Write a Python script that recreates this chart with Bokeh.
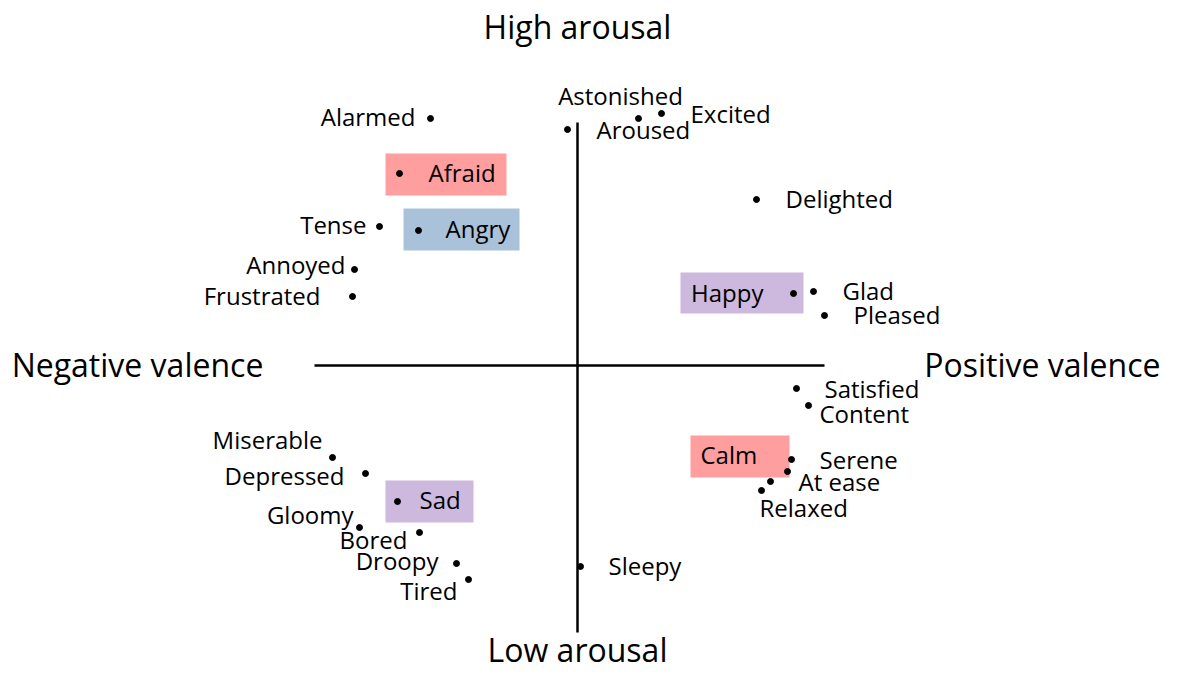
from bokeh.plotting import figure
from bokeh.models import Range1d, ColumnDataSource, Label
from bokeh.core.properties import value
from bokeh.embed import file_html
from bokeh.resources import INLINE

# ---- data: emotion words on the valence / arousal plane ----
words = ["Alarmed", "Astonished", "Excited", "Aroused", "Afraid", "Tense", "Angry",
         "Annoyed", "Frustrated", "Delighted", "Happy", "Glad", "Pleased",
         "Satisfied", "Content", "Calm", "Serene", "At ease", "Relaxed", "Sleepy",
         "Miserable", "Depressed", "Sad", "Gloomy", "Bored", "Droopy", "Tired"]
valence = [-0.588, -0.040, 0.336, 0.244, -0.712, -0.792, -0.636,
           -0.892, -0.900, 0.716, 0.864, 0.944, 0.988,
           0.876, 0.924, 0.840, 0.856, 0.772, 0.736, 0.012,
           -0.980, -0.848, -0.720, -0.872, -0.632, -0.484, -0.436]
arousal = [0.988, 0.944, 1.008, 0.988, 0.768, 0.556, 0.540,
           0.384, 0.276, 0.664, 0.288, 0.296, 0.200,
           -0.092, -0.160, -0.424, -0.376, -0.464, -0.500, -0.804,
           -0.368, -0.432, -0.544, -0.648, -0.668, -0.792, -0.856]

# highlighted basic emotions
highlight_words = ["Afraid", "Angry", "Happy", "Calm", "Sad"]
highlight_colors = ["#FF9E9E", "#A9C1D9", "#CDB8DE", "#FF9E9E", "#CDB8DE"]

axis_titles = ["High arousal", "Low arousal", "Negative valence", "Positive valence"]

# ---- layout (screen-pixel offsets of each label from its dot, y down) ----
label_dx = [-15, 53, 29, -42, 29, -13, 27,
            -9, -32, 29, -30, 29, 29,
            28, 11, -87, 28, 28, -2, 28,
            -10, -21, 22, -6, -12, -18, -11]
label_dy = [-2, -34, 0, 11, -1, -2, -2,
            -5, -1, -1, -1, -1, -1,
            0, 8, -17, 0, 0, 17, -1,
            -18, 2, -2, -13, 7, -3, 11]
label_align = ["right", "center", "left", "left", "left", "right", "left",
               "right", "right", "left", "right", "left", "left",
               "left", "left", "left", "left", "left", "left", "left",
               "right", "right", "left", "right", "right", "right", "right"]
# box extents relative to dot (screen px): left, right, top, bottom
box_offsets = {"Afraid": (-14, 107, -20, 22), "Angry": (-15, 101, -22, 20),
               "Happy": (-113, 10, -21, 20), "Calm": (-97, 2, -36, 6),
               "Sad": (-12, 76, -21, 21)}

W, H = 1162, 671
SCALE = 250.0          # px per unit
CX, CY = 577, 365      # centre of the cross in figure px
FONT = "Open Sans"

p = figure(width=W, height=H, output_backend="svg", toolbar_location=None,
           x_range=Range1d(-CX / SCALE, (W - CX) / SCALE),
           y_range=Range1d(-(H - CY) / SCALE, CY / SCALE),
           min_border=0, outline_line_color=None)
p.xaxis.visible = False
p.yaxis.visible = False
p.xgrid.visible = False
p.ygrid.visible = False
p.background_fill_color = "white"
p.border_fill_color = "white"

# highlight boxes
bx, by, bw, bh, bc = [], [], [], [], []
for wname, col in zip(highlight_words, highlight_colors):
    i = words.index(wname)
    l, r, t, b = box_offsets[wname]
    bx.append(valence[i] + (l + r) / 2 / SCALE)
    by.append(arousal[i] - (t + b) / 2 / SCALE)
    bw.append(r - l)
    bh.append(b - t)
    bc.append(col)
p.rect(x=bx, y=by, width=bw, height=bh, width_units="screen", height_units="screen",
       fill_color=bc, line_color=None)

# axes cross
p.segment(x0=[-1.052, 0.0], y0=[0.0, 0.972], x1=[0.988, 0.0], y1=[0.0, -1.068],
          line_color="black", line_width=2.5)

# dots
p.scatter(x=valence, y=arousal, size=6, color="black")

# labels
src = ColumnDataSource(dict(x=valence, y=arousal, t=words, dx=label_dx,
                            dy=label_dy, al=label_align))
p.text(x="x", y="y", text="t", x_offset="dx", y_offset="dy", text_align="al",
       text_baseline="middle", text_font=value(FONT), text_font_size="24px",
       text_color="black", source=src)

# axis titles
bottom = -(H - CY) / SCALE
right = (W - CX) / SCALE
title_pos = [(0.0, 1.356, "center", "middle"), (0.0, bottom + 0.004, "center", "bottom"),
             (-1.76, 0.004, "center", "middle"), (right - 0.008, 0.004, "right", "middle")]
for txt, (x, y, al, bl) in zip(axis_titles, title_pos):
    p.add_layout(Label(x=x, y=y, text=txt, text_align=al, text_baseline=bl,
                       text_font=FONT, text_font_size="32px", text_color="black"))

open("out.html", "w").write(file_html(p, INLINE))
